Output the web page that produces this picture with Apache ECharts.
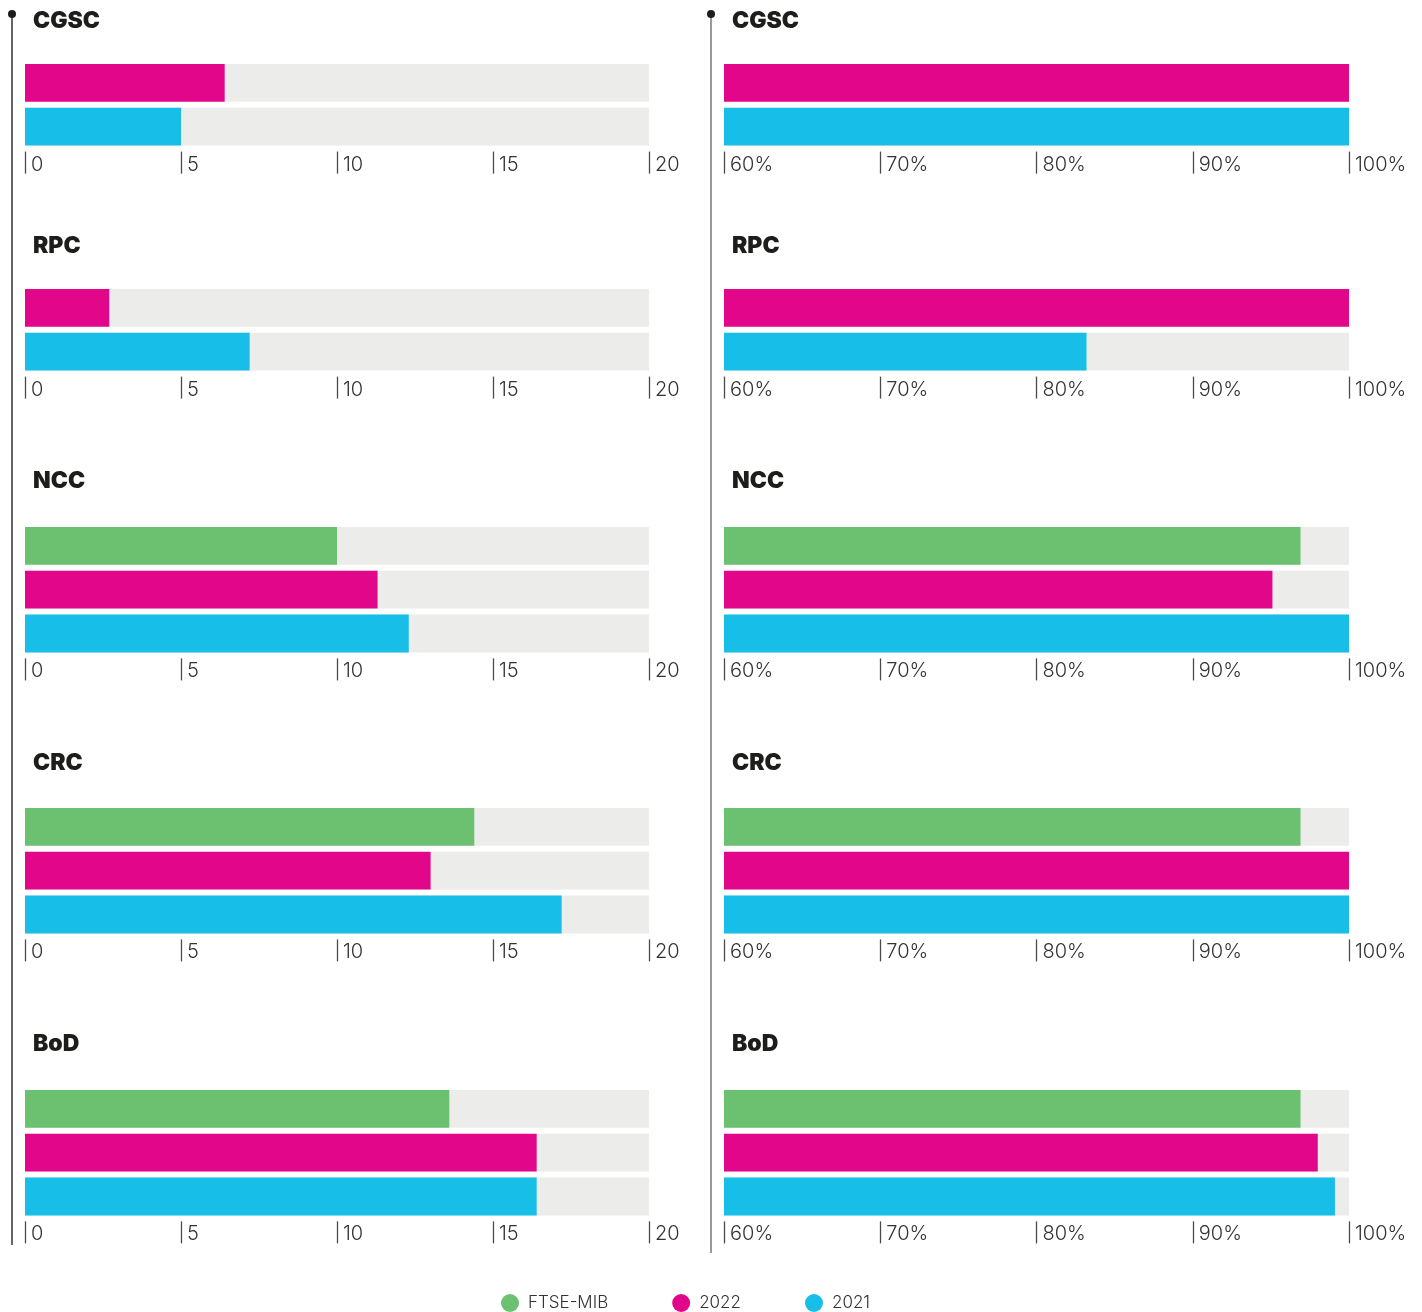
<!DOCTYPE html>
<html>
<head>
<meta charset="utf-8">
<title>Committees</title>
<script src="https://cdn.jsdelivr.net/npm/echarts@6/dist/echarts.min.js"></script>
<style>
  html, body { margin: 0; padding: 0; background: #ffffff; }
  #chart { width: 1422px; height: 1312px; }
</style>
</head>
<body>
<div id="chart"></div>
<script>
// Committee panels, top to bottom
const committees = ['CGSC', 'RPC', 'NCC', 'CRC', 'BoD'];
// Row labels inside each panel (also the legend entries)
const rowLabels = ['FTSE-MIB', '2022', '2021'];

// Left column: number of members / meetings (scale 0–20)
const countFtse = [null, null, 10.0, 14.4, 13.6];
const count2022 = [6.4, 2.7, 11.3, 13.0, 16.4];
const count2021 = [5.0, 7.2, 12.3, 17.2, 16.4];
const countTicks = [0, 5, 10, 15, 20];

// Right column: attendance in percent (scale 60–100%)
const pctFtse = [null, null, 96.9, 96.9, 96.9];
const pct2022 = [100, 100, 95.1, 100, 98.0];
const pct2021 = [100, 83.2, 100, 100, 99.1];
const pctTicks = [60, 70, 80, 90, 100];

const colors = { 'FTSE-MIB': '#6cc170', '2022': '#e2078a', '2021': '#17bfe8' };
const trackColor = '#ececeb';

// Layout of the panels
const panelTop = [61, 286, 524, 805, 1087];
const titleMid = [20, 245, 480, 762, 1043];
const band = 43.8;
const sides = [
  { left: 25, width: 624, ticks: countTicks, series: [countFtse, count2022, count2021], fmt: '{value}' },
  { left: 724, width: 625, ticks: pctTicks, series: [pctFtse, pct2022, pct2021], fmt: '{value}%' }
];

const grid = [], xAxis = [], yAxis = [], series = [], graphic = [];
const labelFont = 'Inter, "Liberation Sans", sans-serif';

sides.forEach(function (side, s) {
  const tMin = side.ticks[0];
  const tMax = side.ticks[side.ticks.length - 1];
  const step = side.ticks[1] - side.ticks[0];
  committees.forEach(function (name, c) {
    const k = grid.length;
    const rows = rowLabels.filter(function (r, ri) { return side.series[ri][c] != null; });
    grid.push({ left: side.left, top: panelTop[c], width: side.width, height: band * rows.length, containLabel: false });
    xAxis.push({
      type: 'value', gridIndex: k, min: tMin, max: tMax, interval: step, offset: 3,
      axisLine: { show: false },
      splitLine: { show: false },
      axisTick: { show: true, length: 22, lineStyle: { color: '#4a4a4a', width: 1.3 } },
      axisLabel: {
        show: true, margin: 3, align: 'left', padding: [0, 0, 0, 6],
        formatter: side.fmt, color: '#333333', fontSize: 20, fontFamily: labelFont, fontWeight: 300
      }
    });
    yAxis.push({ type: 'category', gridIndex: k, data: rows, inverse: true, show: false });

    // grey track behind every bar
    series.push({
      type: 'bar', name: 'track', xAxisIndex: k, yAxisIndex: k, silent: true, clip: true,
      barGap: '-100%', barCategoryGap: '13.8%',
      itemStyle: { color: trackColor },
      data: rows.map(function () { return tMax; })
    });
    rows.forEach(function (r) {
      const ri = rowLabels.indexOf(r);
      series.push({
        type: 'bar', name: r, xAxisIndex: k, yAxisIndex: k, clip: true,
        barGap: '-100%', barCategoryGap: '13.8%',
        itemStyle: { color: colors[r] },
        data: rows.map(function (rr) { return rr === r ? side.series[ri][c] : '-'; })
      });
    });

    graphic.push({
      type: 'text', left: side.left + 8, top: titleMid[c] - 10,
      style: { text: name, font: '900 23px Inter, "Liberation Sans", sans-serif', fill: '#1d1d1b' }
    });
  });
});

// vertical guide lines with a dot on top
[{ x: 12, y2: 1245, stroke: '#333333' }, { x: 711, y2: 1253, stroke: '#777777' }].forEach(function (g) {
  graphic.push({ type: 'line', shape: { x1: g.x, y1: 14, x2: g.x, y2: g.y2 }, style: { stroke: g.stroke, lineWidth: 1.5 }, silent: true });
  graphic.push({ type: 'circle', shape: { cx: g.x, cy: 14, r: 4 }, style: { fill: '#1d1d1b' }, silent: true });
});

const chart = echarts.init(document.getElementById('chart'), null, { renderer: 'canvas' });
chart.setOption({
  animation: false,
  backgroundColor: '#ffffff',
  grid: grid,
  xAxis: xAxis,
  yAxis: yAxis,
  series: series,
  graphic: graphic,
  legend: {
    data: rowLabels, left: 501, top: 1294, padding: 0, itemGap: 64,
    icon: 'circle', itemWidth: 18, itemHeight: 18,
    textStyle: { color: '#333333', fontSize: 17, fontFamily: labelFont, fontWeight: 300, padding: [0, 0, 0, 4] },
    selectedMode: false
  }
});
</script>
</body>
</html>
